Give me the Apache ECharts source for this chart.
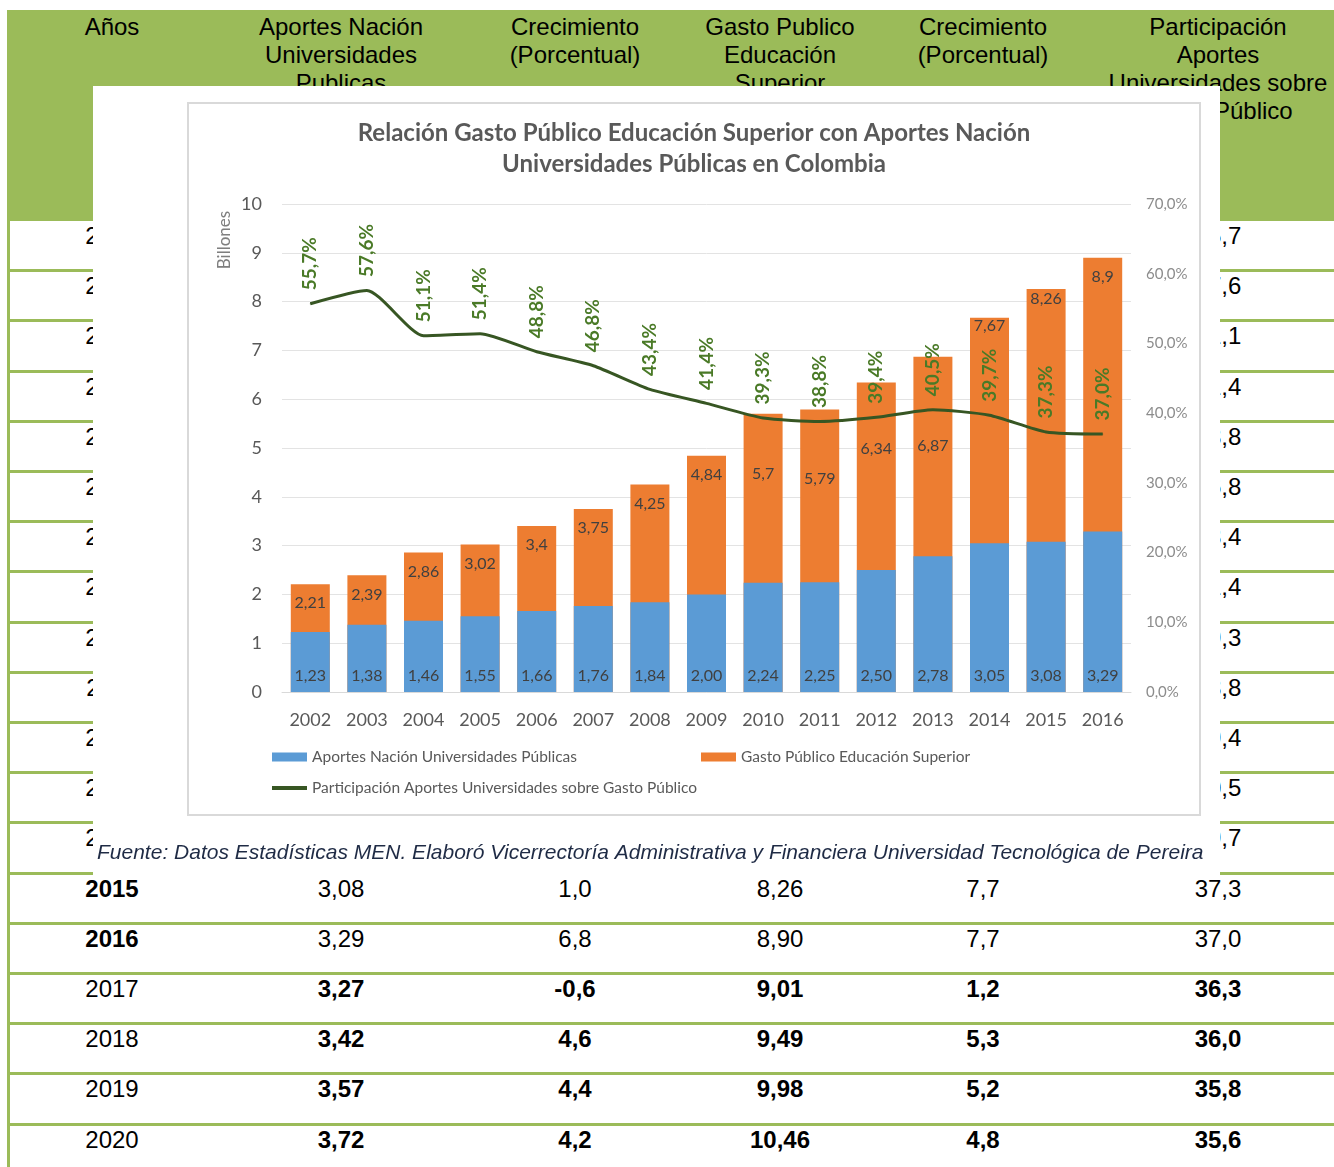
<!DOCTYPE html>
<html>
<head>
<meta charset="utf-8">
<script src="https://cdn.jsdelivr.net/npm/echarts@6/dist/echarts.min.js"></script>
<style>
  html, body { margin: 0; padding: 0; background: #fff; }
  #page { position: relative; width: 1334px; height: 1167px; overflow: hidden; background: #fff; }
  #tabla { position: absolute; left: 0; top: 0; width: 1334px; height: 1167px; }
  .cell {
    position: absolute; width: 260px; text-align: center;
    font-family: "Liberation Sans", Arial, sans-serif; font-size: 24px;
    line-height: 28px; color: #000; white-space: nowrap;
  }
  .b { font-weight: bold; }
  #overlay { position: absolute; left: 93px; top: 86px; width: 1127px; height: 792px; background: #fff; }
  #main { width: 1127px; height: 792px; }
</style>
</head>
<body>
<div id="page">
  <div id="tabla"></div>
  <div id="overlay"><div id="main"></div></div>
</div>
<script>
// datos del grafico (billones de pesos y porcentaje)
const years = ["2002", "2003", "2004", "2005", "2006", "2007", "2008", "2009",
  "2010", "2011", "2012", "2013", "2014", "2015", "2016"];
const aportes = [1.23, 1.38, 1.46, 1.55, 1.66, 1.76, 1.84, 2.00, 2.24, 2.25, 2.50, 2.78, 3.05, 3.08, 3.29];
const gasto = [2.21, 2.39, 2.86, 3.02, 3.4, 3.75, 4.25, 4.84, 5.7, 5.79, 6.34, 6.87, 7.67, 8.26, 8.9];
const participacion = [55.7, 57.6, 51.1, 51.4, 48.8, 46.8, 43.4, 41.4, 39.3, 38.8, 39.4, 40.5, 39.7, 37.3, 37.0];

// crecimientos visibles en la tabla (2015, 2016)
const crecAportesVisible = { "2015": 1.0, "2016": 6.8 };
const crecGastoVisible = { "2015": 7.7, "2016": 7.7 };

// proyeccion 2017-2020 de la tabla
const proyYears = ["2017", "2018", "2019", "2020"];
const proyAportes = [3.27, 3.42, 3.57, 3.72];
const proyCrecAportes = [-0.6, 4.6, 4.4, 4.2];
const proyGasto = [9.01, 9.49, 9.98, 10.46];
const proyCrecGasto = [1.2, 5.3, 5.2, 4.8];
const proyParticipacion = [36.3, 36.0, 35.8, 35.6];

const headers = [
  "Años",
  "Aportes Nación<br>Universidades<br>Publicas",
  "Crecimiento<br>(Porcentual)",
  "Gasto Publico<br>Educación<br>Superior",
  "Crecimiento<br>(Porcentual)",
  "Participación<br>Aportes<br>Universidades sobre<br>Gasto Público"
];

const GREEN = "#9BBB59";
const colX = [112, 341, 575, 780, 983, 1218];

const coma = (v, d) => v.toFixed(d).replace(".", ",");

// ---- tabla de fondo ----
function buildTable() {
  const t = document.getElementById("tabla");
  let html = "";
  html += `<div style="position:absolute;left:8px;top:10px;width:1326px;height:211px;background:${GREEN}"></div>`;
  html += `<div style="position:absolute;left:7px;top:10px;width:3px;height:1157px;background:${GREEN}"></div>`;
  headers.forEach((h, i) => {
    html += `<div class="cell" style="left:${colX[i] - 130}px;top:13px">${h}</div>`;
  });
  const rows = [];
  years.forEach((y, i) => {
    rows.push({
      cells: [y,
        coma(aportes[i], 2),
        crecAportesVisible[y] !== undefined ? coma(crecAportesVisible[y], 1) : "",
        coma(gasto[i], 2),
        crecGastoVisible[y] !== undefined ? coma(crecGastoVisible[y], 1) : "",
        coma(participacion[i], 1)],
      boldYear: i >= 13, boldVals: false
    });
  });
  proyYears.forEach((y, i) => {
    rows.push({
      cells: [y, coma(proyAportes[i], 2), coma(proyCrecAportes[i], 1), coma(proyGasto[i], 2),
        coma(proyCrecGasto[i], 1), coma(proyParticipacion[i], 1)],
      boldYear: false, boldVals: true
    });
  });
  const rowH = 50.2;
  rows.forEach((r, i) => {
    const top = 220.5 + rowH * i;
    r.cells.forEach((c, j) => {
      const b = j === 0 ? r.boldYear : r.boldVals;
      html += `<div class="cell${b ? " b" : ""}" style="left:${colX[j] - 130}px;top:${top + 1.5}px">${c}</div>`;
    });
    html += `<div style="position:absolute;left:8px;top:${top + rowH - 1.5}px;width:1326px;height:3px;background:${GREEN}"></div>`;
  });
  t.innerHTML = html;
}
buildTable();

// ---- grafico ----
// ajuste manual de etiquetas del gasto (como en el original de Excel)
const gastoLabelDy = { 8: 41, 9: 50, 10: 47, 11: 70, 12: -11, 13: -9 };

const FONT = "Lato, 'Noto Sans', sans-serif";
const GRAY = "#595959";

const chart = echarts.init(document.getElementById("main"), null, { renderer: "canvas" });
const option = {
  animation: false,
  backgroundColor: "#fff",
  textStyle: { fontFamily: FONT },
  grid: { left: 189, right: 89, top: 118, height: 488 },
  graphic: [
    {
      type: "rect",
      shape: { x: 95, y: 17, width: 1012, height: 712 },
      style: { fill: "none", stroke: "#d9d9d9", lineWidth: 2 },
      z: 0
    },
    {
      type: "text",
      x: 601, y: 63,
      style: {
        text: "Relación Gasto Público Educación Superior con Aportes Nación\nUniversidades Públicas en Colombia",
        font: "bold 24px " + FONT, fill: GRAY,
        textAlign: "center", textVerticalAlign: "middle", lineHeight: 31
      }
    },
    {
      type: "text",
      x: 132, y: 154, rotation: Math.PI / 2,
      style: {
        text: "Billones", font: "17px " + FONT, fill: "#7f7f7f",
        textAlign: "center", textVerticalAlign: "middle"
      }
    },
    {
      type: "text",
      x: 4, y: 767,
      style: {
        text: "Fuente: Datos Estadísticas MEN. Elaboró Vicerrectoría Administrativa y Financiera Universidad Tecnológica de Pereira",
        font: "italic 21px 'Liberation Sans', Arial, sans-serif", fill: "#1f2b45",
        textAlign: "left", textVerticalAlign: "middle"
      }
    }
  ],
  legend: [
    {
      data: ["Aportes Nación Universidades Públicas"],
      left: 179, top: 663, padding: 0, itemWidth: 35, itemHeight: 9, itemGap: 4,
      icon: "rect", textStyle: { fontSize: 15.5, color: GRAY, fontFamily: FONT }
    },
    {
      data: ["Gasto Público Educación Superior"],
      left: 608, top: 663, padding: 0, itemWidth: 35, itemHeight: 9, itemGap: 4,
      icon: "rect", textStyle: { fontSize: 15.5, color: GRAY, fontFamily: FONT }
    },
    {
      data: ["Participación Aportes Universidades sobre Gasto Público"],
      left: 179, top: 694, padding: 0, itemWidth: 35, itemHeight: 4, itemGap: 4,
      icon: "rect", textStyle: { fontSize: 15.5, color: GRAY, fontFamily: FONT }
    }
  ],
  xAxis: {
    type: "category",
    data: years,
    axisTick: { show: false },
    axisLine: { lineStyle: { color: "#d9d9d9", width: 1 } },
    axisLabel: { color: GRAY, fontSize: 18, margin: 19, fontFamily: FONT }
  },
  yAxis: [
    {
      type: "value", min: 0, max: 10, interval: 1,
      axisLine: { show: false }, axisTick: { show: false },
      splitLine: { lineStyle: { color: "#e3e3e3", width: 1 } },
      axisLabel: { color: GRAY, fontSize: 18, margin: 20, fontFamily: FONT }
    },
    {
      type: "value", min: 0, max: 70, interval: 10,
      axisLine: { show: false }, axisTick: { show: false },
      splitLine: { show: false },
      axisLabel: {
        color: "#8c8c8c", fontSize: 15, margin: 15, fontFamily: FONT,
        formatter: (v) => coma(v, 1) + "%"
      }
    }
  ],
  series: [
    {
      name: "Gasto Público Educación Superior",
      type: "bar",
      barWidth: 39,
      barGap: "-100%",
      itemStyle: { color: "#ED7D31" },
      label: {
        show: true, position: "insideTop", distance: 11,
        color: "#404040", fontSize: 16, fontFamily: FONT,
        formatter: (p) => String(p.value).replace(".", ",")
      },
      data: gasto.map((v, i) => ({
        value: v,
        label: { offset: [0, gastoLabelDy[i] || 0] }
      })),
      z: 2
    },
    {
      name: "Aportes Nación Universidades Públicas",
      type: "bar",
      barWidth: 39,
      barGap: "-100%",
      itemStyle: { color: "#5B9BD5" },
      label: {
        show: true, position: "insideBottom", distance: 8,
        color: "#404040", fontSize: 16, fontFamily: FONT,
        formatter: (p) => coma(p.value, 2)
      },
      data: aportes,
      z: 3
    },
    {
      name: "Participación Aportes Universidades sobre Gasto Público",
      type: "line",
      yAxisIndex: 1,
      smooth: 0.2,
      symbol: "circle",
      symbolSize: 1,
      showSymbol: true,
      lineStyle: { color: "#375623", width: 3 },
      itemStyle: { color: "#375623" },
      label: {
        show: true, position: "top", distance: 13, rotate: 90,
        align: "left", verticalAlign: "middle",
        color: "#4a7a27", fontSize: 19, fontWeight: "bold", fontFamily: FONT,
        formatter: (p) => coma(p.value, 1) + "%"
      },
      data: participacion,
      z: 5
    }
  ]
};
chart.setOption(option);
</script>
</body>
</html>
